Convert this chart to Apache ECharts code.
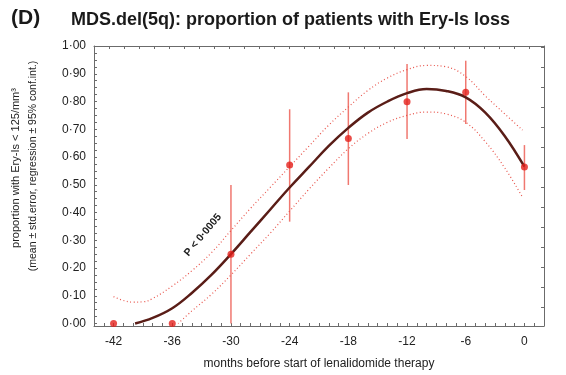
<!DOCTYPE html>
<html>
<head>
<meta charset="utf-8">
<title>MDS.del(5q) Ery-Is loss</title>
<script src="https://cdn.jsdelivr.net/npm/echarts@6/dist/echarts.min.js"></script>
<style>
	html, body {margin: 0; padding: 0; background: #fff;}
	#chart {width: 566px; height: 375px;}
</style>
</head>
<body>
<div id="chart"></div>
<script>
// observed means (dots) and std.error bars
var months = [-42, -36, -30, -24, -18, -12, -6, 0];
var meanProp = [0, 0, 0.25, 0.571, 0.667, 0.799, 0.833, 0.564];
var errLow = [null, null, 0, 0.367, 0.499, 0.665, 0.719, 0.481];
var errHigh = [null, null, 0.499, 0.772, 0.833, 0.935, 0.947, 0.643];

// regression curve
var fitMonths = [-39.8, -38, -36, -34, -32, -30, -28, -26, -24, -22, -20, -18, -16, -14, -12, -10, -8, -6, -4, -2, 0];
var fitLine = [0, 0.02, 0.055, 0.11, 0.175, 0.25, 0.33, 0.41, 0.49, 0.565, 0.64, 0.705, 0.76, 0.80, 0.83, 0.845, 0.838, 0.815, 0.76, 0.675, 0.565];

// 95% conf.int. bands
var upperMonths = [-42, -41, -40, -39, -38, -36, -34, -32, -30, -28, -26, -24, -22, -20, -18, -16, -14, -12, -10, -8, -6, -4, -2, -0.2];
var upperBand = [0.097, 0.083, 0.077, 0.078, 0.09, 0.135, 0.19, 0.255, 0.335, 0.415, 0.49, 0.565, 0.64, 0.715, 0.78, 0.84, 0.885, 0.915, 0.93, 0.925, 0.89, 0.82, 0.755, 0.697];
var lowerMonths = [-35.4, -34, -32, -30, -28, -26, -24, -22, -20, -18, -16, -14, -12, -10, -8, -6, -4, -2, -0.2];
var lowerBand = [0, 0.045, 0.105, 0.175, 0.25, 0.325, 0.405, 0.485, 0.56, 0.63, 0.685, 0.725, 0.75, 0.762, 0.755, 0.725, 0.655, 0.56, 0.455];

// tick labels
var xTickLabels = [-42, -36, -30, -24, -18, -12, -6, 0];
var yTickLabels = [0, 0.1, 0.2, 0.3, 0.4, 0.5, 0.6, 0.7, 0.8, 0.9, 1.0];

var FONT = 'Liberation Sans, Arial, sans-serif';
var AXIS_COLOR = '#6b6b6b';

function zip(a, b){
	var out = [];
	for (var i = 0; i < a.length; i++) out.push([a[i], b[i]]);
	return out;
}
function steps(from, to, step){	//minor tick positions
	var out = [];
	for (var v = from; v <= to + 1e-9; v += step) out.push(+v.toFixed(4));
	return out;
}

var errData = [];
for (var i = 0; i < months.length; i++){
	if (errLow[i] !== null) errData.push([months[i], errLow[i], errHigh[i]]);
}

var myChart = echarts.init(document.getElementById('chart'), null, {renderer: 'canvas'});

var option = {
	backgroundColor: '#fff',
	animation: false,
	textStyle: {fontFamily: FONT},
	grid: {left: 94, right: 22, top: 46, bottom: 49, outerBoundsMode: 'none', containLabel: false},
	graphic: [
		{type: 'text', left: 11, top: 8, style: {text: '(D)', font: 'bold 21px ' + FONT, fill: '#1a1a1a'}},
		{type: 'text', left: 71, top: 11, style: {text: 'MDS.del(5q): proportion of patients with Ery-Is loss', font: 'bold 18px ' + FONT, fill: '#1a1a1a'}},
		{type: 'text', x: 203, y: 235, rotation: 50 * Math.PI / 180, z: 10,
			style: {text: 'P < 0·0005', font: 'bold 10.5px ' + FONT, fill: '#1a1a1a', align: 'center', verticalAlign: 'middle'}},
		// y axis title, two lines
		{type: 'text', x: 16, y: 168, rotation: Math.PI / 2,
			style: {text: 'proportion with Ery-Is < 125/mm³', font: '11px ' + FONT, fill: '#222', align: 'center', verticalAlign: 'middle'}},
		{type: 'text', x: 33, y: 166, rotation: Math.PI / 2,
			style: {text: '(mean ± std.error, regression ± 95% conf.int.)', font: '10.5px ' + FONT, fill: '#222', align: 'center', verticalAlign: 'middle'}}
	],
	xAxis: [{
		type: 'value', position: 'bottom', min: -44, max: 2,
		splitLine: {show: false},
		axisLine: {onZero: false, lineStyle: {color: AXIS_COLOR, width: 1}},
		axisTick: {inside: true, length: 3, customValues: steps(-44, 2, 1), lineStyle: {color: AXIS_COLOR}},
		axisLabel: {customValues: xTickLabels, color: '#222', fontSize: 12, margin: 10, fontFamily: FONT},
		name: 'months before start of lenalidomide therapy',
		nameLocation: 'middle', nameGap: 32,
		nameTextStyle: {color: '#222', fontSize: 12, fontFamily: FONT}
	}, {
		type: 'value', position: 'top', min: -44, max: 2,
		splitLine: {show: false},
		axisLine: {onZero: false, lineStyle: {color: AXIS_COLOR, width: 1}},
		axisTick: {inside: true, length: 3, customValues: steps(-44, 2, 46 / 30), lineStyle: {color: AXIS_COLOR}},
		axisLabel: {show: false}
	}],
	yAxis: [{
		type: 'value', position: 'left', min: -0.009, max: 1.0,
		splitLine: {show: false},
		axisLine: {show: true, onZero: false, lineStyle: {color: AXIS_COLOR, width: 1}},
		axisTick: {show: true, inside: true, length: 3, customValues: steps(0, 1, 0.025), lineStyle: {color: AXIS_COLOR}},
		axisLabel: {
			customValues: yTickLabels, color: '#222', fontSize: 12, margin: 8, fontFamily: FONT,
			formatter: function(v){ return v.toFixed(2).replace('.', '·'); }
		}
	}, {
		type: 'value', position: 'right', min: -0.009, max: 1.0,
		splitLine: {show: false},
		axisLine: {show: true, onZero: false, lineStyle: {color: AXIS_COLOR, width: 1}},
		axisTick: {show: true, inside: true, length: 3, customValues: steps(0.06, 1, 0.072), lineStyle: {color: AXIS_COLOR}},
		axisLabel: {show: false}
	}],
	series: [{
		name: 'upper 95%', type: 'line', smooth: 0.4, showSymbol: false, silent: true,
		data: zip(upperMonths, upperBand),
		lineStyle: {color: '#e8554c', width: 1.2, type: [1, 2.5]}
	}, {
		name: 'lower 95%', type: 'line', smooth: 0.4, showSymbol: false, silent: true,
		data: zip(lowerMonths, lowerBand),
		lineStyle: {color: '#e8554c', width: 1.2, type: [1, 2.5]}
	}, {
		name: 'std.error', type: 'custom', silent: true, z: 3,
		data: errData,
		renderItem: function(params, api){
			var top = api.coord([api.value(0), api.value(2)]);
			var bot = api.coord([api.value(0), api.value(1)]);
			return {
				type: 'line',
				shape: {x1: top[0], y1: top[1], x2: bot[0], y2: bot[1]},
				style: {stroke: '#f07870', lineWidth: 1.5}
			};
		}
	}, {
		name: 'regression', type: 'line', smooth: 0.4, showSymbol: false, silent: true, z: 4,
		data: zip(fitMonths, fitLine),
		lineStyle: {color: '#5a1d17', width: 2.5}
	}, {
		name: 'mean', type: 'scatter', symbolSize: 7, z: 5,
		data: zip(months, meanProp),
		itemStyle: {color: '#e3211c'}
	}]
};
myChart.setOption(option);
</script>
</body>
</html>
